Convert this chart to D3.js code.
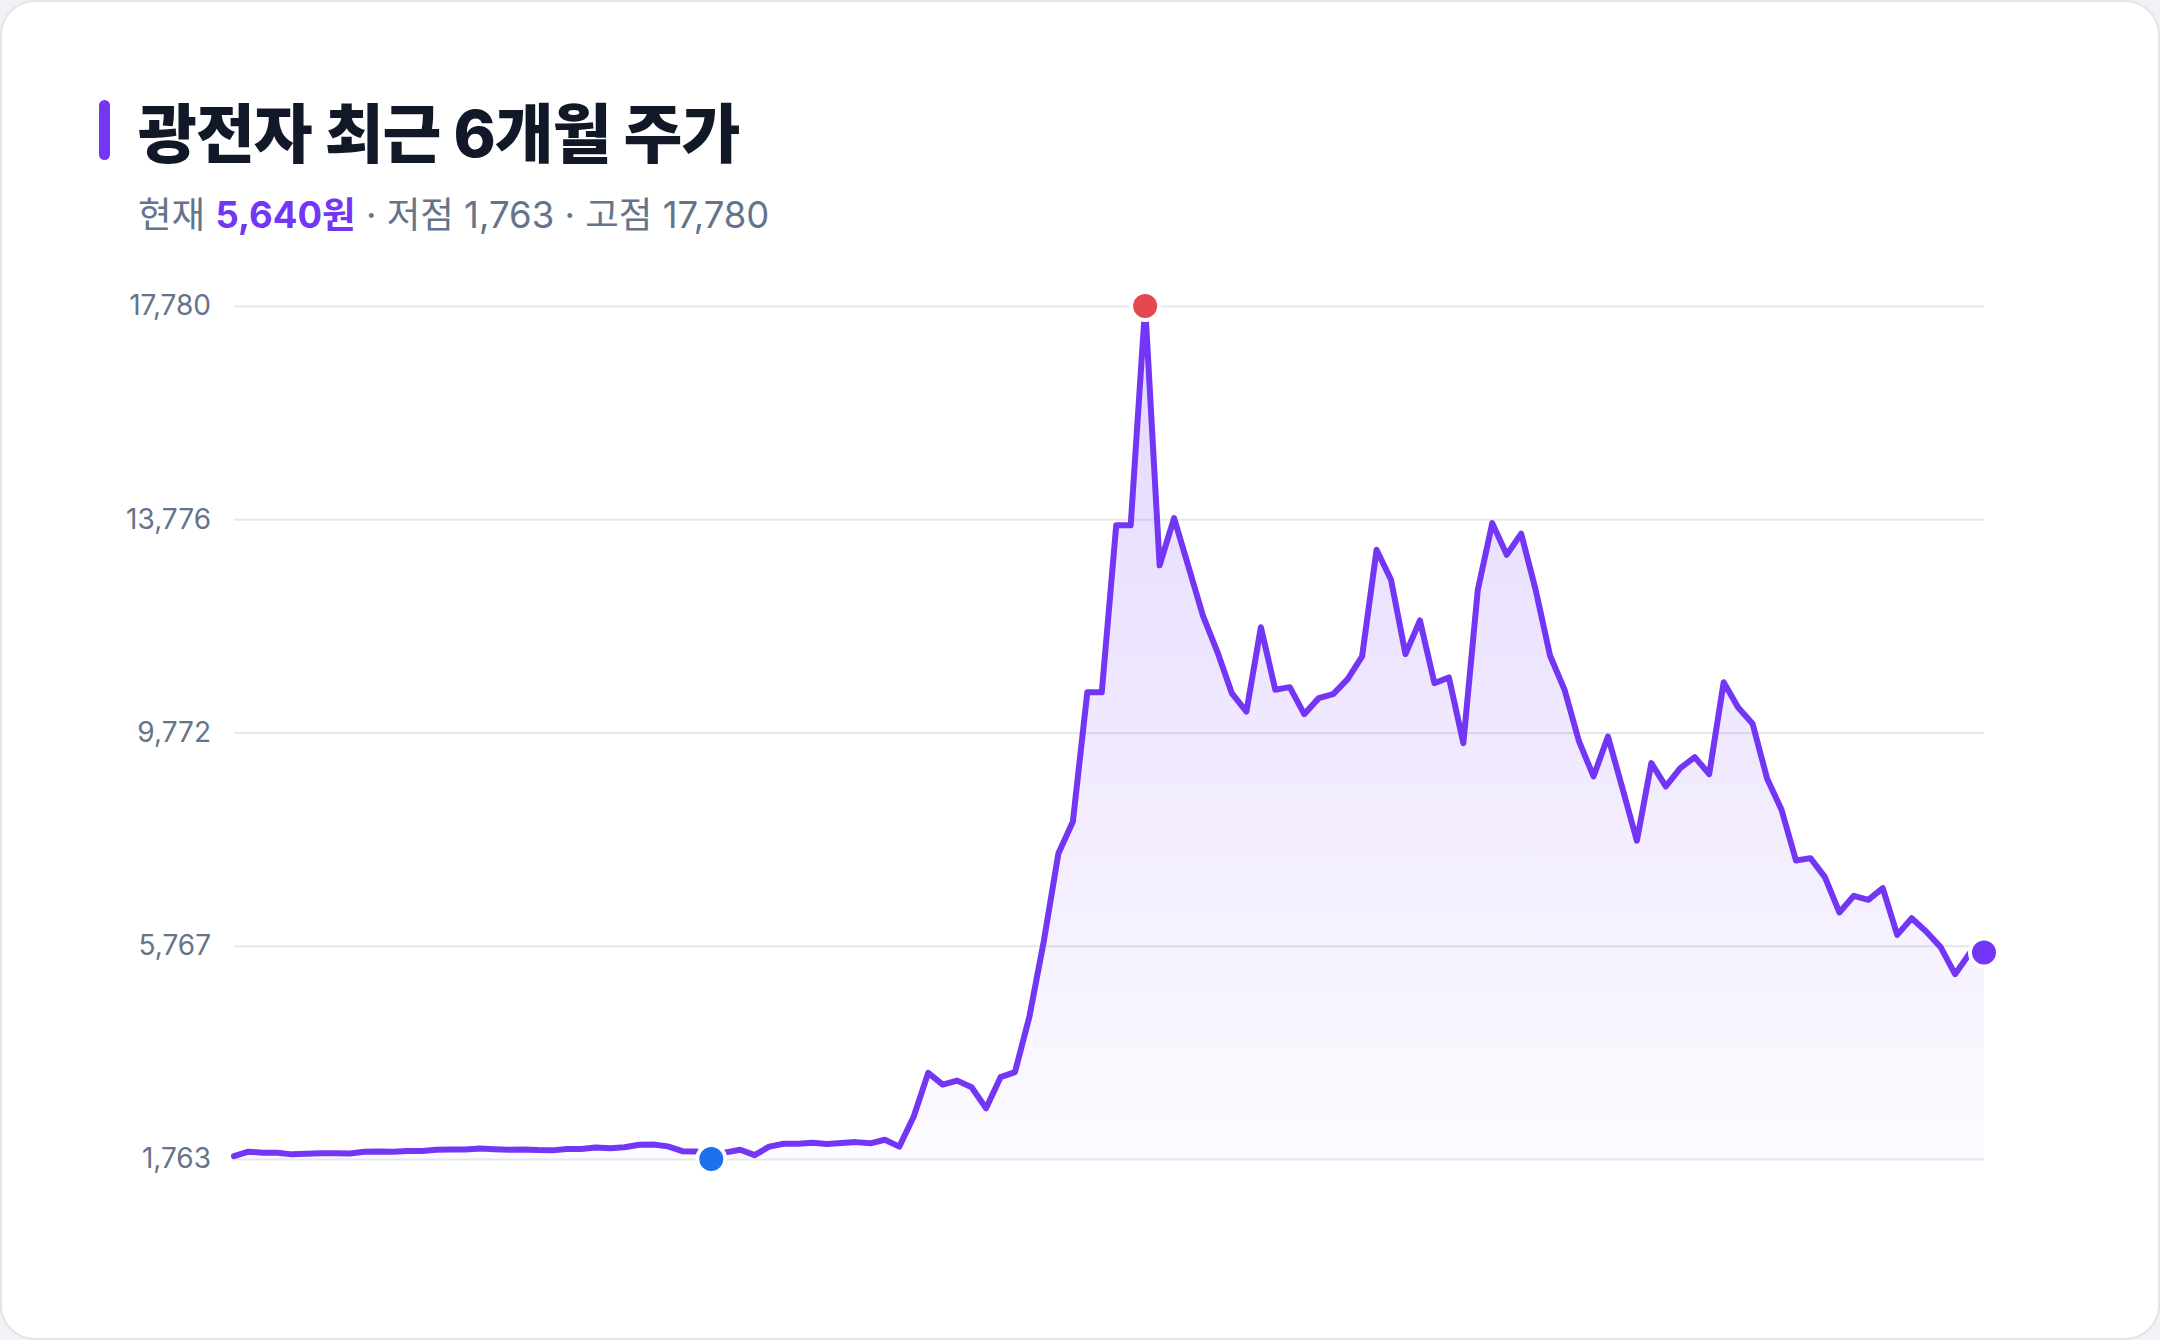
<!DOCTYPE html>
<html lang="ko">
<head>
<meta charset="utf-8">
<script src="https://cdn.jsdelivr.net/npm/d3@7"></script>
<style>
  html,body{margin:0;padding:0;background:#f1f2f5;}
  svg{display:block;}
  text{font-family:Inter,"Noto Sans CJK KR",sans-serif;}
</style>
</head>
<body>
<svg id="chart" width="2160" height="1340"></svg>
<script>
// 최근 6개월 일별 종가 (원)
var title = "광전자 최근 6개월 주가";
var prices = [
  1815,1900,1880,1880,1850,1860,1870,1870,1868,1900,
  1905,1900,1912,1915,1935,1942,1942,1958,1945,1938,
  1942,1930,1925,1950,1950,1978,1965,1985,2030,2035,
  2000,1910,1905,1763,1888,1938,1835,1995,2050,2050,
  2068,2045,2062,2080,2057,2125,1995,2560,3380,3160,
  3235,3110,2715,3300,3395,4440,5864,7500,8096,10525,
  10525,13664,13664,17780,12912,13797,12880,11962,11282,10505,
  10163,11748,10573,10623,10116,10417,10492,10774,11199,13202,
  12639,11243,11875,10698,10805,9572,12451,13703,13109,13503,
  12451,11212,10573,9603,8946,9697,8724,7740,9196,8760,
  9102,9309,8990,10714,10240,9935,8910,8320,7368,7412,
  7055,6392,6705,6629,6849,5972,6285,6035,5741,5233,
  5620,5640
];
var yTicks = [1763, 5767, 9772, 13776, 17780];

var W = 2160, H = 1340,
    plotLeft = 234, plotRight = 1984,
    plotTop = 306, plotBottom = 1159;

var purple = "#7436f5",
    fmt = d3.format(",");

var svg = d3.select("#chart");

// 카드 배경
svg.append("rect")
  .attr("x",1).attr("y",1)
  .attr("width",W-2).attr("height",H-2)
  .attr("rx",34)
  .attr("fill","#ffffff")
  .attr("stroke","#e3e5ea")
  .attr("stroke-width",2);

// 제목
svg.append("rect")
  .attr("x",99).attr("y",100)
  .attr("width",11).attr("height",60)
  .attr("rx",5.5)
  .attr("fill",purple);

svg.append("text")
  .attr("x",138).attr("y",157)
  .attr("font-size",64)
  .attr("font-weight",800)
  .attr("letter-spacing",-1)
  .attr("fill","#111827")
  .text(title);

var minI = d3.minIndex(prices),
    maxI = d3.maxIndex(prices),
    lastI = prices.length-1;

var sub = svg.append("text")
  .attr("x",138).attr("y",228)
  .attr("font-size",36.5)
  .attr("fill","#64748b");
sub.append("tspan").text("현재 ");
sub.append("tspan")
  .attr("fill",purple).attr("font-weight",700)
  .text(fmt(prices[lastI])+"원");
sub.append("tspan").text(" · 저점 "+fmt(prices[minI])+" · 고점 "+fmt(prices[maxI]));

// 스케일
var x = d3.scaleLinear()
  .domain([0, prices.length-1])
  .range([plotLeft, plotRight]);
var y = d3.scaleLinear()
  .domain([d3.min(prices), d3.max(prices)])
  .range([plotBottom, plotTop]);

// 축 + 그리드
var yAxis = svg.append("g")
  .attr("transform","translate("+plotLeft+",0)")
  .call(d3.axisLeft(y)
    .tickValues(yTicks)
    .tickFormat(fmt)
    .tickSize(-(plotRight-plotLeft))
    .tickPadding(23));
yAxis.select(".domain").remove();
yAxis.selectAll(".tick line")
  .attr("stroke","#e5e7eb")
  .attr("stroke-width",2);
yAxis.selectAll(".tick text")
  .attr("fill","#64748b")
  .attr("font-size",28)
  .attr("font-family","Inter, 'Noto Sans CJK KR', sans-serif");

// 그라데이션
var defs = svg.append("defs");
var grad = defs.append("linearGradient").attr("id","areaGrad")
  .attr("gradientUnits","userSpaceOnUse")
  .attr("x1",0).attr("x2",0)
  .attr("y1",plotTop).attr("y2",plotBottom);
grad.append("stop").attr("offset","0%").attr("stop-color",purple).attr("stop-opacity",0.2);
grad.append("stop").attr("offset","100%").attr("stop-color",purple).attr("stop-opacity",0.02);

var area = d3.area()
  .x(function(d,i){ return x(i); })
  .y0(y(d3.min(prices)))
  .y1(function(d){ return y(d); });
var line = d3.line()
  .x(function(d,i){ return x(i); })
  .y(function(d){ return y(d); });

svg.append("path")
  .datum(prices)
  .attr("d",area)
  .attr("fill","url(#areaGrad)");

svg.append("path")
  .datum(prices)
  .attr("d",line)
  .attr("fill","none")
  .attr("stroke",purple)
  .attr("stroke-width",6)
  .attr("stroke-linejoin","round")
  .attr("stroke-linecap","round");

// 포인트
var marks = [
  {i:minI, color:"#1f70ef"},
  {i:maxI, color:"#e5484d"},
  {i:lastI, color:purple}
];
svg.selectAll(".mark")
  .data(marks)
  .enter().append("circle")
  .attr("class","mark")
  .attr("cx",function(d){ return x(d.i); })
  .attr("cy",function(d){ return y(prices[d.i]); })
  .attr("r",14)
  .attr("fill",function(d){ return d.color; })
  .attr("stroke","#ffffff")
  .attr("stroke-width",4);
</script>
</body>
</html>
